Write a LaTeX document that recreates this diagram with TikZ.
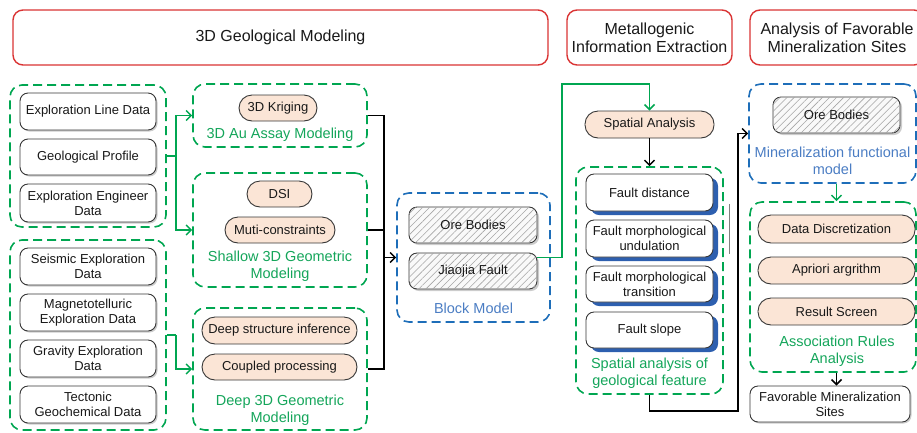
\documentclass[tikz,border=0pt]{standalone}
\usepackage{fontspec}
\setmainfont{Liberation Sans}
\usetikzlibrary{arrows.meta,shadows,patterns.meta,calc}
\definecolor{hdrred}{RGB}{218,52,52}
\definecolor{grn}{RGB}{0,166,81}
\definecolor{grntxt}{RGB}{20,165,90}
\definecolor{blu}{RGB}{30,110,185}
\definecolor{blutxt}{RGB}{75,125,195}
\definecolor{peach}{RGB}{251,229,214}
\definecolor{shblue}{RGB}{45,95,175}
\definecolor{edgec}{RGB}{55,55,55}
\definecolor{ink}{RGB}{25,25,25}
\begin{document}
\begin{tikzpicture}[x=1pt,y=-1pt,
  >={Straight Barb[length=5pt,width=10pt]},
  hdr/.style={draw=hdrred, line width=1.4pt, rounded corners=10pt, fill=white, inner sep=0pt, align=center, font=\fontsize{16}{18}\selectfont, text=ink, minimum height=55pt},
  ggroup/.style={draw=grn, line width=1.6pt, dash pattern=on 9pt off 5pt, rounded corners=12pt, inner sep=0pt},
  bgroup/.style={draw=blu, line width=1.6pt, dash pattern=on 9pt off 5pt, rounded corners=12pt, inner sep=0pt},
  basebox/.style={draw=edgec, line width=0.9pt, rounded corners=8pt, inner sep=0pt, align=center, font=\fontsize{13}{15}\selectfont, text=ink},
  dbox/.style={basebox, fill=white, drop shadow={shadow xshift=1.5pt, shadow yshift=-1.5pt, fill=black!40, opacity=0.5}},
  fbox/.style={basebox, fill=white, drop shadow={shadow xshift=5pt, shadow yshift=-4pt, fill=shblue, opacity=1}},
  hbox/.style={basebox, fill=gray!5, drop shadow={shadow xshift=2pt, shadow yshift=-2pt, fill=black!40, opacity=0.5}, postaction={pattern={Lines[angle=45,distance=5pt,line width=0.6pt]}, pattern color=gray!70}},
  pill/.style={basebox, fill=peach, rounded corners=13pt},
  glbl/.style={align=center, font=\fontsize{14.5}{17}\selectfont, text=grntxt, inner sep=0pt},
  blbl/.style={align=center, font=\fontsize{14.5}{17}\selectfont, text=blutxt, inner sep=0pt},
  gconn/.style={draw=grn, line width=1.5pt},
  kconn/.style={draw=black, line width=1.5pt}
]
\useasboundingbox (0,0) rectangle (917,432);

% headers
\node[hdr, minimum width=535pt] (h1) at (280.5,37.5) {3D Geological Modeling};
\node[hdr, minimum width=165pt] (h2) at (649.5,37.5) {Metallogenic\\Information Extraction};
\node[hdr, minimum width=174pt] (h3) at (837,37.5) {Analysis of Favorable\\Mineralization Sites};

% left data groups
\node[ggroup, minimum width=156pt, minimum height=142pt] (g1) at (88,156) {};
\node[dbox, minimum width=136pt, minimum height=37pt] (el) at (88,111.5) {Exploration Line Data};
\node[dbox, minimum width=136pt, minimum height=36pt] (gp) at (88,157) {Geological Profile};
\node[dbox, minimum width=136pt, minimum height=38pt] (ee) at (88,203) {Exploration Engineer\\Data};

\node[ggroup, minimum width=156pt, minimum height=190pt] (g2) at (88,335) {};
\node[dbox, minimum width=136pt, minimum height=37pt] (se) at (88,266.5) {Seismic Exploration\\Data};
\node[dbox, minimum width=136pt, minimum height=37pt] (mt) at (88,312.5) {Magnetotelluric\\Exploration Data};
\node[dbox, minimum width=136pt, minimum height=37pt] (gr) at (88,358.5) {Gravity Exploration\\Data};
\node[dbox, minimum width=136pt, minimum height=37pt] (tg) at (88,404.5) {Tectonic\\Geochemical Data};

% modeling groups
\node[ggroup, minimum width=174pt, minimum height=63pt] (au) at (280,115.5) {};
\node[pill, minimum width=78pt, minimum height=26pt] (kr) at (278,108) {3D Kriging};
\node[glbl] (aul) at (280,135) {3D Au Assay Modeling};

\node[ggroup, minimum width=174pt, minimum height=114pt] (sh) at (280,230) {};
\node[pill, minimum width=65pt, minimum height=26pt] (dsi) at (279.5,194) {DSI};
\node[pill, minimum width=110pt, minimum height=26pt] (mc) at (280,230) {Muti-constraints};
\node[glbl] (shl) at (280,266) {Shallow 3D Geometric\\Modeling};

\node[ggroup, minimum width=174pt, minimum height=122pt] (dp) at (280,369) {};
\node[pill, minimum width=155pt, minimum height=27pt] (dsf) at (279.5,330.5) {Deep structure inference};
\node[pill, minimum width=155pt, minimum height=26pt] (cp) at (279.5,367) {Coupled processing};
\node[glbl] (dpl) at (280,410) {Deep 3D Geometric\\Modeling};

% block model
\node[bgroup, minimum width=153pt, minimum height=129pt] (blk) at (473.5,257.5) {};
\node[hbox, minimum width=128pt, minimum height=36pt] (ob1) at (473,225) {Ore Bodies};
\node[hbox, minimum width=128pt, minimum height=36pt] (jf) at (473,271) {Jiaojia Fault};
\node[blbl] (blkl) at (473.5,308) {Block Model};

% spatial analysis
\node[pill, minimum width=129pt, minimum height=27pt] (sa) at (649.5,124.5) {Spatial Analysis};
\node[ggroup, minimum width=147pt, minimum height=227pt] (sg) at (649.5,280.5) {};
\node[fbox, minimum width=127pt, minimum height=37pt] (fd) at (649.5,192.5) {Fault distance};
\node[fbox, minimum width=127pt, minimum height=37pt] (fu) at (649.5,238.5) {Fault morphological\\undulation};
\node[fbox, minimum width=127pt, minimum height=36pt] (ft) at (649.5,284) {Fault morphological\\transition};
\node[fbox, minimum width=127pt, minimum height=36pt] (fs) at (649.5,330) {Fault slope};
\node[glbl] (sgl) at (649.5,373.5) {Spatial analysis of\\geological feature};

% mineralization functional model
\node[bgroup, minimum width=167pt, minimum height=99pt] (mf) at (832.5,133.5) {};
\node[hbox, minimum width=127pt, minimum height=36pt] (ob2) at (836.5,115) {Ore Bodies};
\node[blbl] (mfl) at (832.5,160.5) {Mineralization functional\\model};

% association rules
\node[ggroup, minimum width=166pt, minimum height=170pt] (ar) at (833,287) {};
\node[pill, minimum width=157pt, minimum height=28pt] (dd) at (836.5,229) {Data Discretization};
\node[pill, minimum width=157pt, minimum height=27pt] (ap) at (836.5,270.5) {Apriori argrithm};
\node[pill, minimum width=157pt, minimum height=27pt] (rs) at (836.5,311.5) {Result Screen};
\node[glbl] (arl) at (837,351) {Association Rules\\Analysis};

\node[dbox, minimum width=160pt, minimum height=36pt] (fav) at (830,404) {Favorable Mineralization\\Sites};

% connectors
\draw[gconn] (g1.east) -- ++(9,0) coordinate (j1);
\draw[gconn,->] (j1) |- (au.west);
\draw[gconn,->] (j1) |- (sh.west);
\draw[gconn] (g2.east) -- ++(9,0) coordinate (j2);
\draw[gconn,->] (j2) |- (dp.west);

\draw[kconn] (au.east) -- ++(16,0) coordinate (b1) -- (b1 |- dp.east) -- (dp.east);
\draw[kconn] (sh.east) -- (b1 |- sh.east);
\draw[kconn,->] (b1 |- blk.west) -- (blk.west);

\coordinate (bendA) at (562,84);
\draw[gconn,->] (jf.east |- blk.east) -| (bendA) -| (sa.north);
\draw[kconn,->] (sa.south) -- (sg.north);

\coordinate (bendB) at (738,411);
\draw[kconn,->] (sg.south) |- (bendB) |- (mf.west);

\draw[gconn,->] (ob2.south |- mf.south) -- (ob2.south |- ar.north);
\draw[kconn,->] (ob2.south |- ar.south) -- (ob2.south |- fav.north);

% stray mark
\draw[gray, line width=1pt] (729,204) -- (729,254);
\end{tikzpicture}
\end{document}
